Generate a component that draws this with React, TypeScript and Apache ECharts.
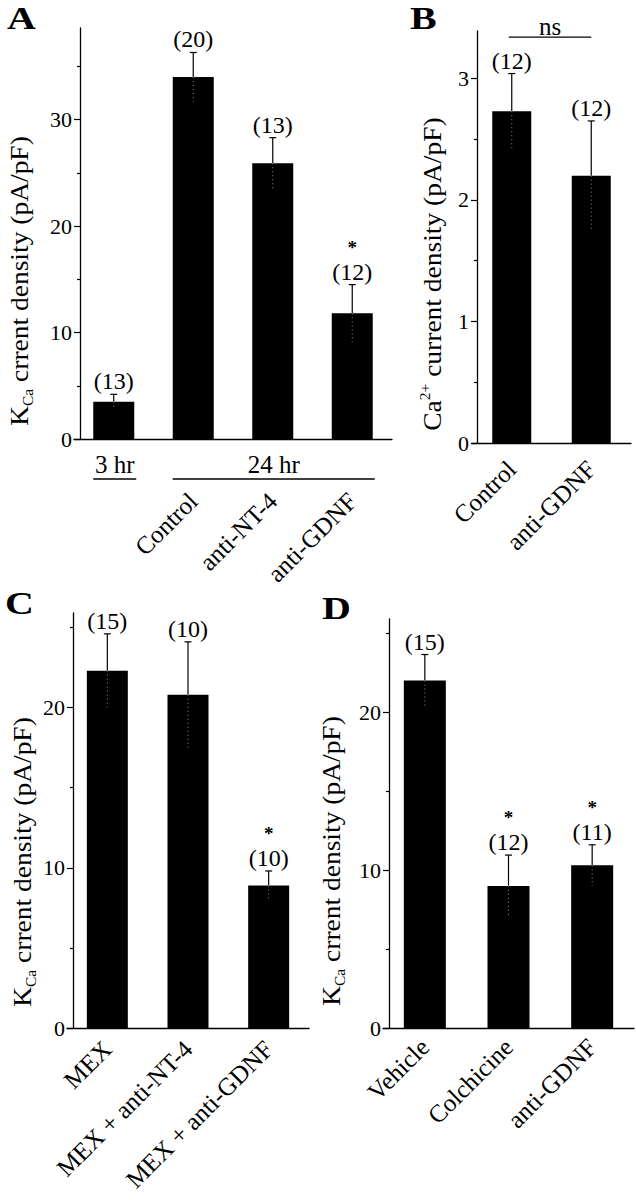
import React, { useEffect, useRef } from "react";
import * as echarts from "echarts";

const FONT = "'Liberation Serif', 'Times New Roman', serif";

// ---------- Panel A ----------
const catsA = ["", "Control", "anti-NT-4", "anti-GDNF"];
const meanA = [3.5, 34.0, 25.9, 11.8];
const errA = [0.7, 2.3, 2.4, 2.7];
const nA = [13, 20, 13, 12];
const sigA = [false, false, false, true];
const groupsA = [
  { label: "3 hr", from: 0, to: 0 },
  { label: "24 hr", from: 1, to: 3 },
];
const ticksA = [0, 10, 20, 30];
const minorA = [5, 15, 25, 35];

// ---------- Panel B ----------
const catsB = ["Control", "anti-GDNF"];
const meanB = [2.73, 2.2];
const errB = [0.31, 0.45];
const nB = [12, 12];
const sigB = [false, false];
const ticksB = [0, 1, 2, 3];
const minorB = [0.5, 1.5, 2.5];
const nsB = { from: 0, to: 1, level: 3.34, label: "ns" };

// ---------- Panel C ----------
const catsC = ["MEX", "MEX + anti-NT-4", "MEX + anti-GDNF"];
const meanC = [22.3, 20.8, 8.9];
const errC = [2.3, 3.3, 0.9];
const nC = [15, 10, 10];
const sigC = [false, false, true];
const ticksC = [0, 10, 20];
const minorC = [5, 15, 25];

// ---------- Panel D ----------
const catsD = ["Vehicle", "Colchicine", "anti-GDNF"];
const meanD = [22.0, 9.0, 10.3];
const errD = [1.65, 1.95, 1.3];
const nD = [15, 12, 11];
const sigD = [false, true, true];
const ticksD = [0, 10, 20];
const minorD = [5, 15, 25];

const KCA_NAME = "{m|K}{s|Ca}{m| crrent density (pA/pF)}";
const CA_NAME = "{m|Ca}{p|2+}{m| current density (pA/pF)}";

const panels = [
  {
    letter: "A", cats: catsA, mean: meanA, err: errA, n: nA, sig: sigA,
    ticks: ticksA, minor: minorA, max: 38.6,
    grid: { left: 74, top: 28, width: 318, height: 411 },
    yOffset: -6, barWidth: 41, labelMargin: 58,
    name: KCA_NAME, nameX: 20, nameY: 281, letterX: 7, letterY: 2,
  },
  {
    letter: "B", cats: catsB, mean: meanB, err: errB, n: nB, sig: sigB,
    ticks: ticksB, minor: minorB, max: 3.39,
    grid: { left: 472, top: 31, width: 159, height: 412 },
    yOffset: -5, barWidth: 39, labelMargin: 22,
    name: CA_NAME, nameX: 433, nameY: 274, letterX: 410, letterY: 2,
  },
  {
    letter: "C", cats: catsC, mean: meanC, err: errC, n: nC, sig: sigC,
    ticks: ticksC, minor: minorC, max: 25.9,
    grid: { left: 67, top: 613, width: 242, height: 415 },
    yOffset: -6, barWidth: 41, labelMargin: 17,
    name: KCA_NAME, nameX: 23, nameY: 862, letterX: 5, letterY: 587,
  },
  {
    letter: "D", cats: catsD, mean: meanD, err: errD, n: nD, sig: sigD,
    ticks: ticksD, minor: minorD, max: 25.9,
    grid: { left: 383, top: 619, width: 251, height: 409 },
    yOffset: -6, barWidth: 42, labelMargin: 15,
    name: KCA_NAME, nameX: 332, nameY: 861, letterX: 322, letterY: 592,
  },
];

const N_SIZE = 24;
const STAR_SIZE = 19;

const textStyle = (size: number) => ({
  fill: "#000",
  fontSize: size,
  fontFamily: FONT,
  align: "center",
  verticalAlign: "middle",
});

function errorSeries(idx: number, p: any) {
  return {
    type: "custom",
    xAxisIndex: idx,
    yAxisIndex: idx * 2,
    data: p.mean.map((m: number, i: number) => [i, m, p.err[i]]),
    encode: { x: 0, y: 1 },
    z: 5,
    renderItem: (params: any, api: any) => {
      const i = params.dataIndex;
      const m = p.mean[i];
      const e = p.err[i];
      const base = api.coord([i, m]);
      const top = api.coord([i, m + e]);
      const bot = api.coord([i, m - e]);
      const x = base[0];
      const nY = top[1] - 13;
      const children: any[] = [
        { type: "line", shape: { x1: x, y1: base[1], x2: x, y2: top[1] }, style: { stroke: "#000", lineWidth: 1.2 } },
        { type: "line", shape: { x1: x - 3.5, y1: top[1], x2: x + 3.5, y2: top[1] }, style: { stroke: "#000", lineWidth: 1.2 } },
        { type: "line", shape: { x1: x, y1: base[1], x2: x, y2: bot[1] }, style: { stroke: "rgba(255,255,255,0.55)", lineWidth: 1, lineDash: [1, 3] } },
        { type: "text", x, y: nY, style: { ...textStyle(N_SIZE), text: `(${p.n[i]})` } },
      ];
      if (p.sig[i]) {
        const gap = N_SIZE * 0.555 + STAR_SIZE * 0.555 + 0.5;
        children.push({ type: "text", x, y: nY - gap, style: { ...textStyle(STAR_SIZE), fontWeight: "bold", text: "*" } });
      }
      return { type: "group", children };
    },
  };
}

export default function App() {
  const ref = useRef<HTMLDivElement>(null);

  useEffect(() => {
    if (!ref.current) return;
    const chart = echarts.init(ref.current, undefined, { renderer: "svg" });

    const grid = panels.map((p) => ({ ...p.grid }));
    const xAxis = panels.map((p, i) => ({
      type: "category",
      gridIndex: i,
      data: p.cats,
      axisTick: { show: false },
      axisLine: { lineStyle: { color: "#000", width: 1.3 } },
      axisLabel: {
        interval: 0,
        rotate: 45,
        margin: p.labelMargin,
        color: "#000",
        fontSize: 25,
        fontFamily: FONT,
      },
      splitLine: { show: false },
    }));
    const yAxis: any[] = [];
    panels.forEach((p, i) => {
      yAxis.push({
        type: "value",
        gridIndex: i,
        position: "left",
        min: 0,
        max: p.max,
        offset: p.yOffset,
        axisLine: { show: true, lineStyle: { color: "#000", width: 1.3 } },
        axisTick: { show: true, inside: false, length: 6, customValues: p.ticks, lineStyle: { color: "#000", width: 1.2 } },
        axisLabel: { customValues: p.ticks, margin: 8, color: "#000", fontSize: 22, fontFamily: FONT },
        splitLine: { show: false },
      });
      yAxis.push({
        type: "value",
        gridIndex: i,
        position: "left",
        min: 0,
        max: p.max,
        offset: p.yOffset,
        axisLine: { show: false },
        axisTick: { show: true, inside: false, length: 3, customValues: p.minor, lineStyle: { color: "#000", width: 1.2 } },
        axisLabel: { show: false },
        splitLine: { show: false },
      });
    });

    const series: any[] = [];
    panels.forEach((p, i) => {
      series.push({
        type: "bar",
        xAxisIndex: i,
        yAxisIndex: i * 2,
        data: p.mean,
        barWidth: p.barWidth,
        itemStyle: { color: "#000" },
        silent: true,
      });
      series.push(errorSeries(i, p));
    });

    // Group brackets under panel A ("3 hr", "24 hr")
    series.push({
      type: "custom",
      xAxisIndex: 0,
      yAxisIndex: 0,
      data: groupsA.map((g) => [g.from, g.to, 0]),
      encode: { x: 0, y: 2 },
      renderItem: (params: any, api: any) => {
        const g = groupsA[params.dataIndex];
        const half = panels[0].barWidth / 2;
        const a = api.coord([g.from, 0]);
        const b = api.coord([g.to, 0]);
        const x1 = a[0] - half;
        const x2 = b[0] + half + 2;
        const y0 = a[1];
        return {
          type: "group",
          children: [
            { type: "line", shape: { x1, y1: y0 + 40, x2, y2: y0 + 40 }, style: { stroke: "#000", lineWidth: 1.5 } },
            { type: "text", x: (x1 + x2) / 2, y: y0 + 25, style: { ...textStyle(25), text: g.label } },
          ],
        };
      },
    });

    // "ns" bar in panel B
    series.push({
      type: "custom",
      xAxisIndex: 1,
      yAxisIndex: 2,
      data: [[nsB.from, nsB.level, nsB.to]],
      encode: { x: 0, y: 1 },
      renderItem: (params: any, api: any) => {
        const a = api.coord([nsB.from, nsB.level]);
        const b = api.coord([nsB.to, nsB.level]);
        const x1 = a[0] - 3;
        const x2 = b[0];
        return {
          type: "group",
          children: [
            { type: "line", shape: { x1, y1: a[1], x2, y2: a[1] }, style: { stroke: "#000", lineWidth: 1.2 } },
            { type: "text", x: (x1 + x2) / 2, y: a[1] - 11, style: { ...textStyle(25), text: nsB.label } },
          ],
        };
      },
    });

    const richName = {
      m: { fontSize: 25, fontFamily: FONT, lineHeight: 30, fill: "#000" },
      s: { fontSize: 14, fontFamily: FONT, lineHeight: 14, verticalAlign: "bottom", fill: "#000" },
      p: { fontSize: 14, fontFamily: FONT, lineHeight: 14, verticalAlign: "top", fill: "#000" },
    };

    const graphic: any[] = [];
    panels.forEach((p) => {
      graphic.push({
        type: "text",
        x: p.letterX,
        y: p.letterY,
        scaleX: 1.25,
        style: {
          text: p.letter,
          fill: "#000",
          fontSize: 32,
          fontWeight: "bold",
          fontFamily: FONT,
          align: "left",
          verticalAlign: "top",
        },
      });
      graphic.push({
        type: "text",
        x: p.nameX,
        y: p.nameY,
        rotation: Math.PI / 2,
        scaleX: 1.1,
        style: {
          text: p.name,
          rich: richName,
          fill: "#000",
          fontSize: 25,
          fontFamily: FONT,
          align: "center",
          verticalAlign: "middle",
        },
      });
    });

    chart.setOption({
      animation: false,
      backgroundColor: "#fff",
      grid,
      xAxis,
      yAxis,
      series,
      graphic,
    });

    return () => chart.dispose();
  }, []);

  return (
    <div
      ref={ref}
      style={{ position: "absolute", left: 0, top: 0, width: 636, height: 1200, background: "#fff" }}
    />
  );
}
